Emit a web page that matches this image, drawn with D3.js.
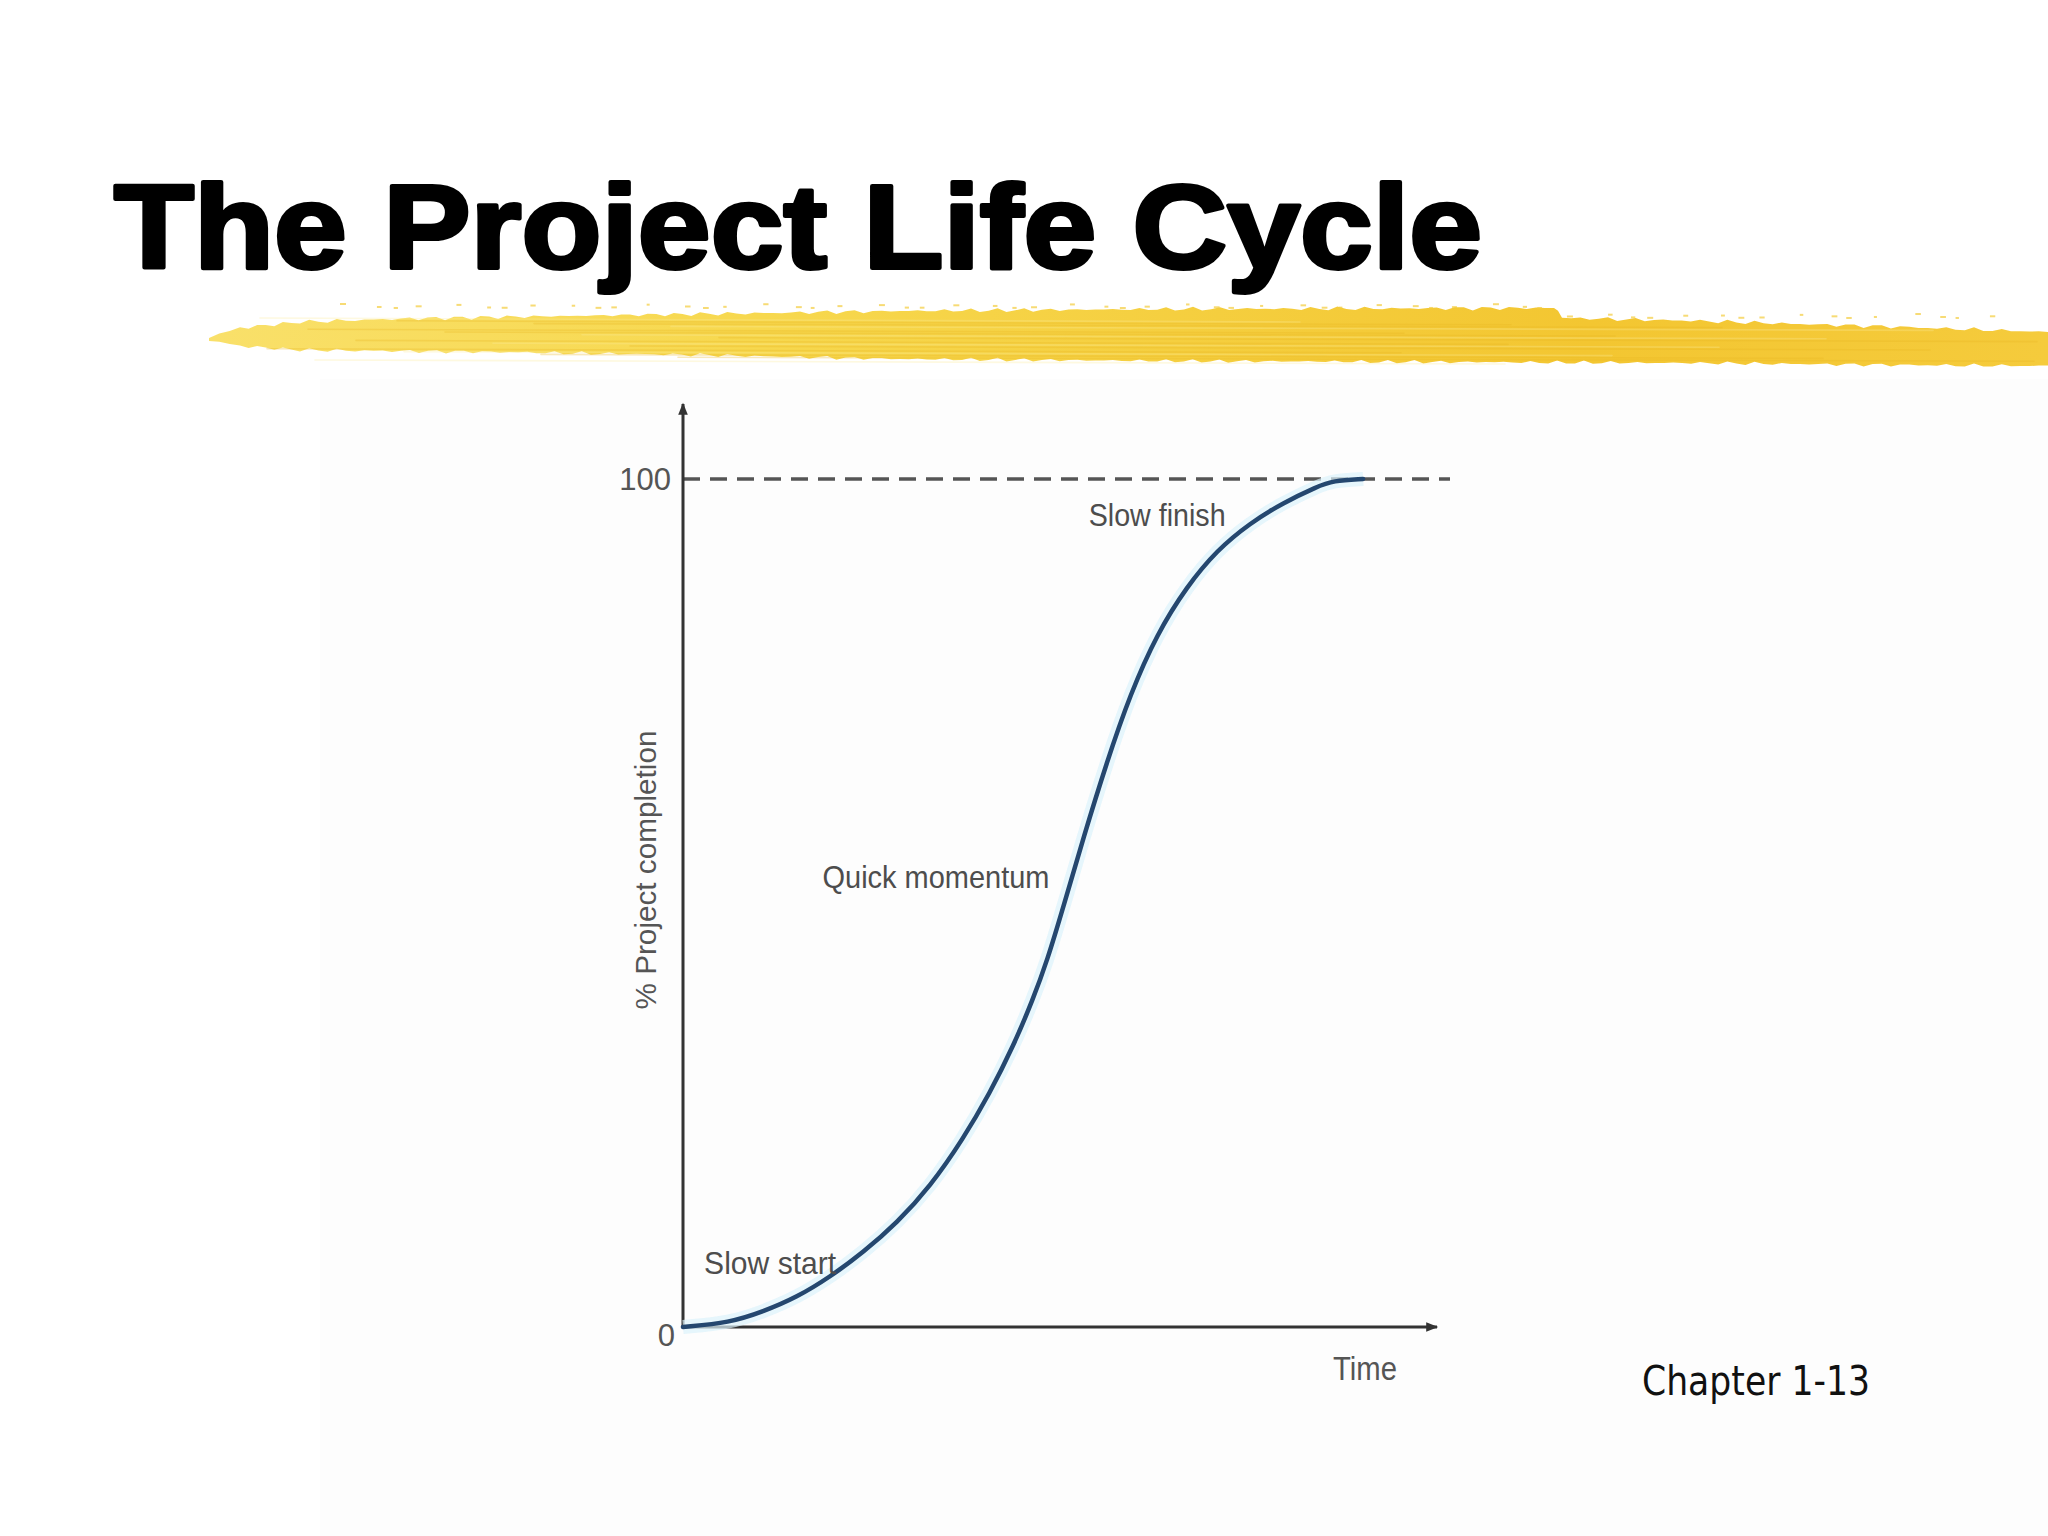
<!DOCTYPE html>
<html>
<head>
<meta charset="utf-8">
<script src="https://cdn.jsdelivr.net/npm/d3@7"></script>
<style>
  html, body { margin: 0; padding: 0; background: #fff; }
  svg { display: block; }
</style>
</head>
<body>
<div id="slide"></div>
<script>
var w = 2048, h = 1536;

// data: time (0..100 of the axis) vs % completion
var timeVals = [0, 6.2, 10.6, 15.1, 19.5, 23.9, 28.4, 32.8, 37.1, 40.7, 43.8, 46.4, 48.3, 50.4, 53.1, 56.2, 59.3, 62.9, 66.8, 70.8, 75.2, 79.6, 84.1, 86.2, 90.2];
var completion = [0, 0.5, 1.8, 3.5, 5.9, 8.8, 12.3, 16.6, 22.1, 27.6, 33.1, 38.6, 43.2, 49.4, 57.7, 66.6, 74.6, 81.8, 87.3, 91.6, 94.8, 97.2, 99.1, 99.8, 100];
var yTicks = [0, 100];
var phaseLabels = ["Slow start", "Quick momentum", "Slow finish"];
var phaseAt = [[2.8, 6.3], [18.5, 51.8], [53.8, 94.4]];   // [time, completion] of each label's left/baseline

var titleText = "The Project Life Cycle";
var yTitle = "% Project completion";
var xTitle = "Time";
var footer = "Chapter 1-13";

var init = function(){
  var svg = d3.select("#slide").append("svg").attr("width", w).attr("height", h);

  svg.append("rect").attr("width", w).attr("height", h).attr("fill", "#ffffff");
  svg.append("rect").attr("x", 320).attr("y", 379).attr("width", w - 320).attr("height", h - 379).attr("fill", "#fdfdfd");

  /*
   * title
   */
  svg.append("text")
    .attr("x", 114).attr("y", 268)
    .attr("textLength", 1368).attr("lengthAdjust", "spacingAndGlyphs")
    .attr("font-family", "Liberation Sans, Arial, sans-serif")
    .attr("font-weight", "bold").attr("font-size", 118)
    .attr("fill", "#000").attr("stroke", "#000").attr("stroke-width", 4).attr("stroke-linejoin", "round")
    .text(titleText);

  /*
   * yellow brush stroke under the title
   */
  var defs = svg.append("defs");
  var grad = defs.append("linearGradient").attr("id", "brush").attr("x1", 0).attr("x2", 1).attr("y1", 0).attr("y2", 0);
  grad.append("stop").attr("offset", 0).attr("stop-color", "#f9e06a");
  grad.append("stop").attr("offset", 0.3).attr("stop-color", "#f7d84e");
  grad.append("stop").attr("offset", 0.75).attr("stop-color", "#f3c631");
  grad.append("stop").attr("offset", 1).attr("stop-color", "#f5cb3c");

  var top = [[209,338],[240,328],[300,322],[392,319],[560,316],[700,314],[900,311],[1175,309],[1554,308],[1562,318],[1700,321],[1900,327],[2048,332]];
  var bot = [[2048,366],[1900,365],[1700,363],[1450,362],[1175,361],[900,359],[700,355],[500,352],[392,351],[300,350],[240,346],[209,341]];
  var jag = function(pts, amp){
    var out = [];
    for (var i = 0; i < pts.length - 1; i++) {
      var a = pts[i], b = pts[i+1];
      var n = Math.max(2, Math.round(Math.abs(b[0]-a[0]) / 9));
      for (var k = 0; k < n; k++) {
        var t = k / n, xx = a[0] + (b[0]-a[0]) * t, yy = a[1] + (b[1]-a[1]) * t;
        out.push([xx, yy + amp * Math.sin(xx * 0.37) * Math.cos(xx * 0.113)]);
      }
    }
    out.push(pts[pts.length-1]);
    return out;
  };
  var outline = jag(top, 2.2).concat(jag(bot, 2.0));
  svg.append("path").attr("d", "M" + outline.map(function(p){ return p[0].toFixed(1)+","+p[1].toFixed(1); }).join("L") + "Z")
    .attr("fill", "url(#brush)");

  // streaks inside the brush
  var streaks = svg.append("g").attr("stroke-linecap", "round");
  for (var s = 0; s < 16; s++) {
    var sy = 318 + s * 2.8;
    var x0 = 260 + (s * 137) % 500, x1 = 1300 + (s * 211) % 740;
    streaks.append("line").attr("x1", x0).attr("x2", x1).attr("y1", sy).attr("y2", sy + 4)
      .attr("stroke", s % 3 == 0 ? "#fcec9a" : "#e9b622")
      .attr("stroke-width", 1.6).attr("opacity", 0.3);
  }
  // dotted specks along the top edge
  for (var d = 0; d < 60; d++) {
    var dx = 340 + d * 28 + 9 * Math.sin(d * 1.7);
    svg.append("rect").attr("x", dx).attr("y", 303 + 4 * Math.abs(Math.sin(d * 2.3)) + (dx > 1560 ? 10 : 0))
      .attr("width", 3 + 3 * Math.abs(Math.cos(d))).attr("height", 2).attr("fill", "#f3cc3a").attr("opacity", 0.7);
  }

  /*
   * chart
   */
  var x = d3.scaleLinear().domain([0, 100]).range([683, 1437]);
  var y = d3.scaleLinear().domain([0, 100]).range([1327, 479]);

  defs.append("marker").attr("id", "arrow").attr("viewBox", "0 0 10 10")
    .attr("refX", 9).attr("refY", 5).attr("markerWidth", 5).attr("markerHeight", 4)
    .attr("orient", "auto").attr("markerUnits", "strokeWidth")
    .append("path").attr("d", "M0,1L10,5L0,9Z").attr("fill", "#333");

  // 100% dashed reference line
  svg.append("line")
    .attr("x1", x(0)).attr("x2", 1450).attr("y1", y(100)).attr("y2", y(100))
    .attr("stroke", "#555").attr("stroke-width", 3.5).attr("stroke-dasharray", "17,10");

  // axes
  svg.append("line").attr("x1", x(0)).attr("x2", x(0)).attr("y1", y(0)).attr("y2", 404)
    .attr("stroke", "#333").attr("stroke-width", 3).attr("marker-end", "url(#arrow)");
  svg.append("line").attr("x1", x(0)).attr("x2", x(100)).attr("y1", y(0)).attr("y2", y(0))
    .attr("stroke", "#333").attr("stroke-width", 3).attr("marker-end", "url(#arrow)");

  var yAxis = svg.append("g").attr("transform", "translate(" + x(0) + ",0)")
    .call(d3.axisLeft(y).tickValues(yTicks).tickSize(0).tickPadding(12).tickFormat(d3.format("d")));
  yAxis.select(".domain").remove();
  yAxis.selectAll("text")
    .attr("font-family", "Liberation Sans Narrow, Liberation Sans, sans-serif")
    .attr("font-size", 31).attr("fill", "#555")
    .attr("dy", function(d){ return d == 0 ? "0.6em" : "0.35em"; })
    .attr("dx", function(d){ return d == 0 ? 4 : 0; });

  // curve with a faint halo
  var pts = timeVals.map(function(t, i){ return [t, completion[i]]; });
  var line = d3.line().x(function(d){ return x(d[0]); }).y(function(d){ return y(d[1]); }).curve(d3.curveBasis);
  svg.append("path").datum(pts).attr("d", line).attr("fill", "none")
    .attr("stroke", "#dcf2fb").attr("stroke-width", 14).attr("opacity", 0.7);
  svg.append("path").datum(pts).attr("d", line).attr("fill", "none")
    .attr("stroke", "#24476f").attr("stroke-width", 4.5).attr("stroke-linecap", "round");

  // labels
  var lblWidths = [132, 227, 137];
  svg.selectAll(".phase").data(phaseLabels).enter().append("text").attr("class", "phase")
    .attr("x", function(d, i){ return x(phaseAt[i][0]); })
    .attr("y", function(d, i){ return y(phaseAt[i][1]); })
    .attr("textLength", function(d, i){ return lblWidths[i]; }).attr("lengthAdjust", "spacingAndGlyphs")
    .attr("font-family", "Liberation Sans, sans-serif").attr("font-size", 32).attr("fill", "#4d4d4d")
    .text(function(d){ return d; });

  svg.append("text")
    .attr("transform", "translate(656," + 870 + ") rotate(-90)")
    .attr("text-anchor", "middle")
    .attr("textLength", 279).attr("lengthAdjust", "spacingAndGlyphs")
    .attr("font-family", "Liberation Sans, sans-serif").attr("font-size", 29).attr("fill", "#555")
    .text(yTitle);

  svg.append("text")
    .attr("x", 1333).attr("y", 1380)
    .attr("textLength", 64).attr("lengthAdjust", "spacingAndGlyphs")
    .attr("font-family", "Liberation Sans, sans-serif").attr("font-size", 34).attr("fill", "#555")
    .text(xTitle);

  /*
   * footer
   */
  svg.append("text")
    .attr("x", 1642).attr("y", 1395)
    .attr("textLength", 228).attr("lengthAdjust", "spacingAndGlyphs")
    .attr("font-family", "DejaVu Sans, sans-serif").attr("font-size", 40).attr("fill", "#111")
    .text(footer);
};

init();
</script>
</body>
</html>
